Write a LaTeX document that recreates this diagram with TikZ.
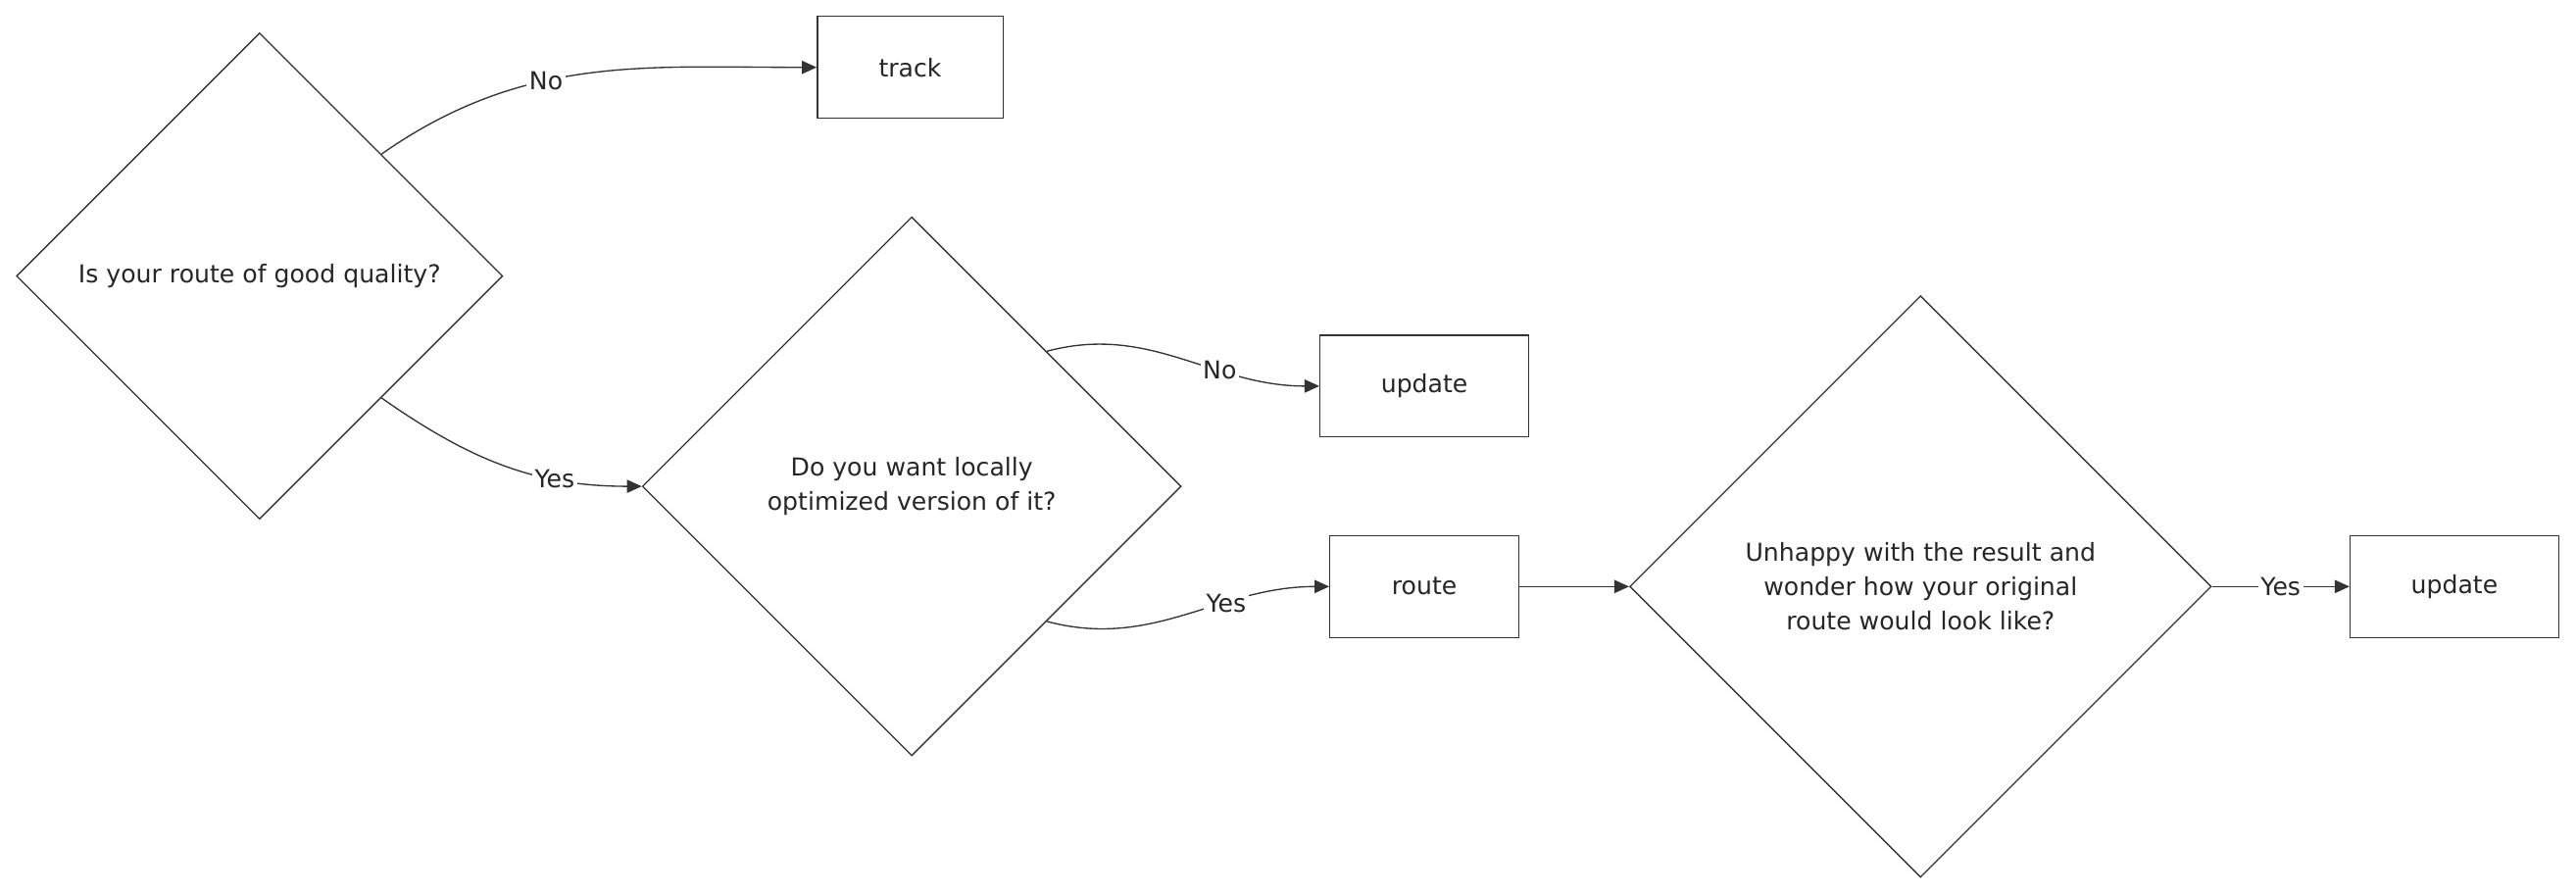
\documentclass[tikz,border=0pt]{standalone}
\usepackage{fontspec}
\setmainfont{DejaVu Sans}
\usetikzlibrary{shapes.geometric,arrows.meta}
\definecolor{ink}{HTML}{333333}
\tikzset{
	basic/.style  = {draw=ink, thick, font=\fontsize{15}{21}\selectfont, text=black!85},
	box/.style    = {basic, rectangle, minimum height=62, inner sep=0pt},
	decide/.style = {basic, diamond, shape aspect=1, inner sep=0pt, align=center},
	link/.style   = {draw=ink, thick, -{Triangle[length=9pt,width=8pt]}},
	tag/.style    = {fill=white, inner sep=1.5pt, font=\fontsize{15}{18}\selectfont, text=black!85}
}
\begin{document}
\begin{tikzpicture}[x=1pt, y=-1pt]
\useasboundingbox (0,0) rectangle (1568,545);

% decisions
\node[decide, minimum size=296] (q1) at (158,168) {Is your route of good quality?};
\node[decide, minimum size=328] (q2) at (555,296) {Do you want locally\\optimized version of it?};
\node[decide, minimum size=354] (q3) at (1169,357) {Unhappy with the result and\\wonder how your original\\route would look like?};

% actions
\node[box, minimum width=113] (track) at (554,41) {track};
\node[box, minimum width=127] (upd1) at (867,235) {update};
\node[box, minimum width=115] (route) at (867,357) {route};
\node[box, minimum width=127] (upd2) at (1494,357) {update};

% connectors
\draw[link] (q1.north east) to[out=35, in=180] node[tag, pos=0.4] {No} (track.west);
\draw[link] (q1.south east) to[out=-35, in=180] node[tag, pos=0.7] {Yes} (q2.west);
\draw[link] (q2.north east) to[out=15, in=180] node[tag, pos=0.65] {No} (upd1.west);
\draw[link] (q2.south east) to[out=-15, in=180] node[tag, pos=0.65] {Yes} (route.west);
\draw[link] (route.east) -- (q3.west);
\draw[link] (q3.east) -- node[tag, pos=0.5] {Yes} (upd2.west);
\end{tikzpicture}
\end{document}
